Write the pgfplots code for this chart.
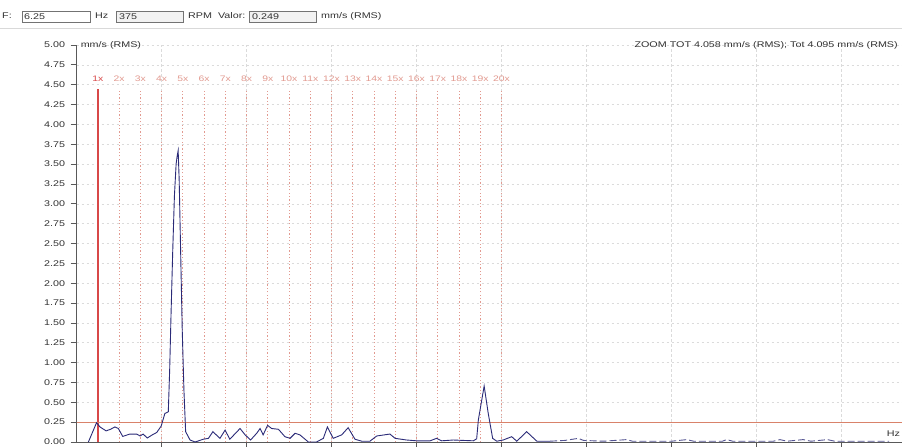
\documentclass[border=0pt]{standalone}
\usepackage{fontspec}
\setmainfont{Liberation Sans}[FakeStretch=1.3]
\usepackage{pgfplots}
\pgfplotsset{compat=1.18}
\definecolor{spec}{HTML}{2B2B78}
\definecolor{refline}{HTML}{D9826A}
\definecolor{harm}{HTML}{E29A90}
\definecolor{harmone}{HTML}{D84848}
\definecolor{txt}{HTML}{333333}
\begin{document}
\begin{tikzpicture}
\useasboundingbox (0,0) rectangle (902bp,447bp);
\fill[white] (0,0) rectangle (902bp,447bp);
% header
\begin{scope}[every node/.style={font=\fontsize{8.3}{10}\selectfont, text=txt, inner sep=0pt}]
\draw[black!15] (0,419bp) -- (902bp,419bp);
\node[anchor=west] at (2bp,431bp) {F:};
\draw[black!55, fill=white] (21.7bp,425bp) rectangle (90bp,436bp);
\node[anchor=west] at (24bp,430.5bp) {6.25};
\node[anchor=west] at (95bp,431bp) {Hz};
\draw[black!55, fill=black!5] (116bp,425bp) rectangle (183bp,436bp);
\node[anchor=west] at (119bp,430.5bp) {375};
\node[anchor=west] at (188bp,431bp) {RPM\ \ Valor:};
\draw[black!55, fill=black!5] (249bp,425bp) rectangle (316bp,436bp);
\node[anchor=west] at (252bp,430.5bp) {0.249};
\node[anchor=west] at (321bp,431bp) {mm/s (RMS)};
\end{scope}
\begin{axis}[
  at={(76.5bp,5bp)}, anchor=south west,
  width=825.5bp, height=397bp, scale only axis,
  xmin=0, xmax=242.8, ymin=0, ymax=5,
  axis lines=left, axis line style={-, draw=black!65, line width=0.8bp},
  xtick={25,50,75,100,125,150,175,200,225},
  xticklabels={},
  ytick={0,0.25,0.5,0.75,1,1.25,1.5,1.75,2,2.25,2.5,2.75,3,3.25,3.5,3.75,4,4.25,4.5,4.75,5},
  yticklabel style={/pgf/number format/.cd, fixed, fixed zerofill, precision=2, assume math mode=true},
  ticklabel style={font=\fontsize{8.3}{10}\selectfont, text=txt},
  tick align=outside, major tick length=6bp, tick style={draw=black!65, line width=0.8bp},
  yticklabel shift=2bp,
  grid=major, major grid style={draw=black!14, dash pattern=on 2.5bp off 2.5bp, line width=0.6bp},
  clip=false,
]
% harmonic cursors
\addplot[color=harm, ycomb, dash pattern=on 1.2bp off 2.2bp, line width=0.9bp, mark=none] coordinates {
(12.5,4.42) (18.75,4.42) (25,4.42) (31.25,4.42) (37.5,4.42) (43.75,4.42) (50,4.42) (56.25,4.42) (62.5,4.42) (68.75,4.42)
(75,4.42) (81.25,4.42) (87.5,4.42) (93.75,4.42) (100,4.42) (106.25,4.42) (112.5,4.42) (118.75,4.42) (125,4.42)};
% 1x cursor
\addplot[draw=harmone, ycomb, solid, line width=1.5bp, mark=none] coordinates {(6.25,4.45)};
% reference level
\addplot[color=refline, line width=1bp, mark=none] coordinates {(0,0.249) (242.8,0.249)};
% spectrum
\addplot[color=spec, line width=0.9bp, mark=none] coordinates {
(3.5,0) (5.9,0.243) (6.9,0.19) (8.7,0.14) (10.0,0.16) (11.3,0.19) (12.3,0.17) (13.6,0.07) (15.7,0.10)
(17.7,0.10) (18.7,0.076) (19.6,0.10) (20.8,0.05) (22.3,0.09) (23.6,0.12) (24.9,0.20) (26.0,0.36) (27.0,0.38)
(27.4,0.9) (27.8,1.6) (28.3,2.4) (28.8,3.1) (29.3,3.5) (29.6,3.6) (29.9,3.67) (30.2,3.3) (30.6,2.46)
(31.1,1.41) (31.6,0.65) (32.1,0.13) (33.4,0.025) (34.9,0.0) (37.3,0.035) (38.8,0.046) (40.1,0.13)
(42.2,0.046) (43.7,0.15) (45.1,0.035) (48.1,0.17) (49.6,0.09) (51.2,0.025) (53.0,0.11) (54.0,0.17)
(54.9,0.09) (56.2,0.21) (57.4,0.17) (59.4,0.16) (61.3,0.067) (62.8,0.046) (64.3,0.11) (65.7,0.09)
(68.2,0.0) (70.6,0.0) (72.6,0.046) (73.8,0.19) (75.5,0.046) (78.0,0.09) (79.9,0.18) (81.9,0.035)
(83.9,0.01) (86.3,0.01) (88.3,0.076) (92.2,0.1) (93.7,0.046) (97.1,0.025) (100.1,0.015) (104.0,0.015)
(105.9,0.046) (107.4,0.015) (110.8,0.025) (116.7,0.015) (117.7,0.04) (118.2,0.28) (119.9,0.705)
(121.1,0.36) (122.4,0.046) (123.6,0.01) (125.5,0.025) (128.0,0.067) (129.5,0.01) (132.4,0.13)
(135.4,0.01) (139.3,0.01)};
\addplot[color=spec!80, line width=0.9bp, mark=none, dash pattern=on 7bp off 3bp] coordinates {
(139.3,0.01) (143.7,0.02) (147.6,0.046) (149.1,0.02) (155,0.01) (161.8,0.03) (163.5,0.01) (175,0.01)
(179.5,0.03) (181.5,0.01) (190,0.01) (191.2,0.03) (193,0.01) (205,0.01) (206.9,0.03) (209,0.01)
(213.7,0.03) (216,0.01) (220.9,0.03) (223,0.01) (239,0.01)};
% labels
\begin{scope}[every node/.style={font=\fontsize{8}{10}\selectfont, inner sep=0pt}]
\node[text=harmone] at (axis cs:6.25,4.57) {1x};
\node[text=harm] at (axis cs:12.5,4.57) {2x};
\node[text=harm] at (axis cs:18.75,4.57) {3x};
\node[text=harm] at (axis cs:25,4.57) {4x};
\node[text=harm] at (axis cs:31.25,4.57) {5x};
\node[text=harm] at (axis cs:37.5,4.57) {6x};
\node[text=harm] at (axis cs:43.75,4.57) {7x};
\node[text=harm] at (axis cs:50,4.57) {8x};
\node[text=harm] at (axis cs:56.25,4.57) {9x};
\node[text=harm] at (axis cs:62.5,4.57) {10x};
\node[text=harm] at (axis cs:68.75,4.57) {11x};
\node[text=harm] at (axis cs:75,4.57) {12x};
\node[text=harm] at (axis cs:81.25,4.57) {13x};
\node[text=harm] at (axis cs:87.5,4.57) {14x};
\node[text=harm] at (axis cs:93.75,4.57) {15x};
\node[text=harm] at (axis cs:100,4.57) {16x};
\node[text=harm] at (axis cs:106.25,4.57) {17x};
\node[text=harm] at (axis cs:112.5,4.57) {18x};
\node[text=harm] at (axis cs:118.75,4.57) {19x};
\node[text=harm] at (axis cs:125,4.57) {20x};
\end{scope}
\begin{scope}[every node/.style={font=\fontsize{8.3}{10}\selectfont, text=txt, inner sep=0pt}]
\node[anchor=west] at (axis cs:1.2,5.0) {mm/s (RMS)};
\node[anchor=east] at (axis cs:241.6,5.0) {ZOOM TOT 4.058 mm/s (RMS); Tot 4.095 mm/s (RMS)};
\node[anchor=east] at (axis cs:242.3,0.11) {Hz};
\end{scope}
\end{axis}
\end{tikzpicture}
\end{document}
